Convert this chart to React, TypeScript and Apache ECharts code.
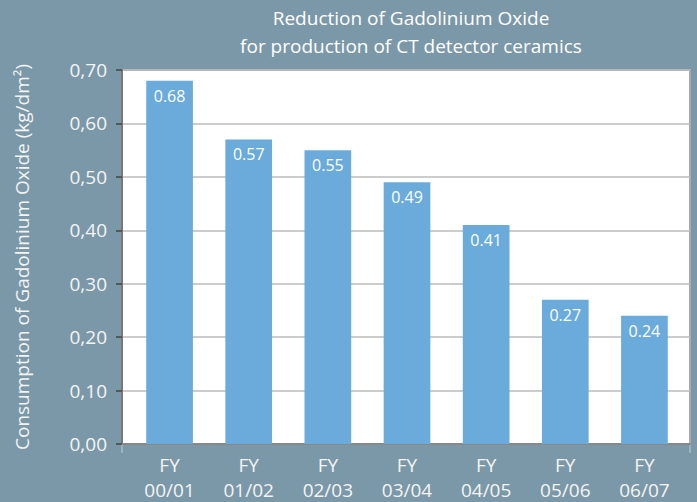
import React, { useEffect, useRef } from "react";
import * as echarts from "echarts";

const categories = ["FY\n00/01", "FY\n01/02", "FY\n02/03", "FY\n03/04", "FY\n04/05", "FY\n05/06", "FY\n06/07"];
const values = [0.68, 0.57, 0.55, 0.49, 0.41, 0.27, 0.24];
const titleText = "Reduction of Gadolinium Oxide\nfor production of CT detector ceramics";
const yAxisName = "Consumption of Gadolinium Oxide (kg/dm²)";

export default function App() {
  const ref = useRef<HTMLDivElement>(null);
  useEffect(() => {
    if (!ref.current) return;
    const chart = echarts.init(ref.current, undefined, { renderer: "svg" });
    const font = "'Open Sans', 'Noto Sans', sans-serif";
    chart.setOption({
      animation: false,
      backgroundColor: "#7b98a8",
      textStyle: { fontFamily: font },
      title: {
        text: titleText,
        left: 406,
        textAlign: "center",
        top: -1,
        textStyle: { color: "#ffffff", fontSize: 19, fontWeight: "normal", lineHeight: 28, fontFamily: font },
      },
      grid: [
        {
          left: 122,
          top: 70,
          right: 7,
          bottom: 58,
          show: true,
          backgroundColor: "#ffffff",
          borderColor: "#aaaaaa",
          borderWidth: 2,
        },
        { left: 130, top: 70, right: 13, bottom: 58 },
      ],
      xAxis: [
        {
          type: "value",
          gridIndex: 0,
          min: 0,
          max: 1,
          axisLine: { show: true, lineStyle: { color: "#888888", width: 2 } },
          axisTick: { show: false },
          axisLabel: { show: false },
          splitLine: { show: false },
        },
        {
          type: "category",
          gridIndex: 1,
          data: categories,
          axisLine: { show: false },
          axisTick: { show: false },
          axisLabel: { color: "#f4f4f4", fontSize: 19, lineHeight: 25, margin: 8, fontFamily: font },
        },
      ],
      yAxis: [
        {
          type: "value",
          gridIndex: 0,
          min: 0,
          max: 0.7,
          interval: 0.1,
          name: yAxisName,
          nameLocation: "middle",
          nameGap: 91,
          nameTextStyle: { color: "#f4f4f4", fontSize: 19, fontFamily: font },
          axisLine: { show: true, lineStyle: { color: "#777777", width: 2 } },
          axisTick: { show: true, inside: false, length: 6, lineStyle: { color: "#444444", width: 1.5 } },
          splitLine: { lineStyle: { color: "#bbbbbb", width: 1.5 } },
          axisLabel: {
            color: "#f4f4f4",
            fontSize: 19,
            margin: 15,
            fontFamily: font,
            formatter: (v: number) => v.toFixed(2).replace(".", ","),
          },
        },
        {
          type: "value",
          gridIndex: 1,
          min: 0,
          max: 0.7,
          interval: 0.1,
          axisLine: { show: false },
          axisTick: { show: false },
          axisLabel: { show: false },
          splitLine: { show: false },
        },
      ],
      graphic: [
        { type: "line", shape: { x1: 122, y1: 444, x2: 122, y2: 453 }, style: { stroke: "#a8b8c2", lineWidth: 1.5 } },
        { type: "line", shape: { x1: 690, y1: 444, x2: 690, y2: 453 }, style: { stroke: "#a8b8c2", lineWidth: 1.5 } },
      ],
      series: [
        {
          type: "bar",
          xAxisIndex: 1,
          yAxisIndex: 1,
          data: values,
          barWidth: "59%",
          itemStyle: { color: "#6aabdc" },
          label: {
            show: true,
            position: "insideTop",
            distance: 7,
            color: "#ffffff",
            fontSize: 16,
            fontFamily: font,
            formatter: (p: any) => p.value.toFixed(2),
          },
        },
      ],
    });
    return () => chart.dispose();
  }, []);
  return <div ref={ref} style={{ width: 697, height: 502, position: "absolute", left: 0, top: 0 }} />;
}
